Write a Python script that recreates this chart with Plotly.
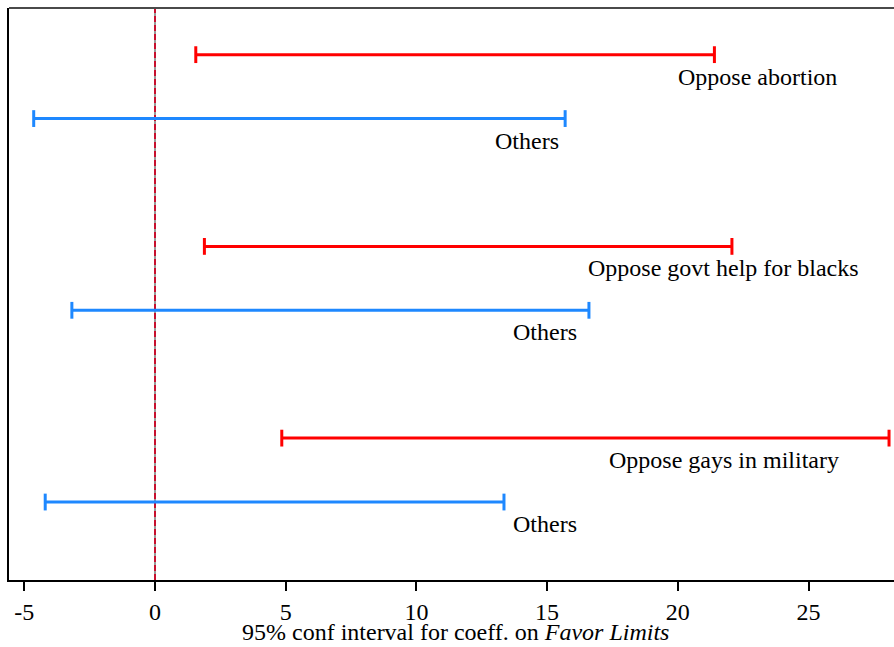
import plotly.graph_objects as go

# 95% confidence intervals for the coefficient on "Favor Limits"
groups = ["Oppose abortion", "Others",
          "Oppose govt help for blacks", "Others",
          "Oppose gays in military", "Others"]
ci_low = [1.56, -4.64, 1.89, -3.18, 4.85, -4.20]
ci_high = [21.40, 15.69, 22.07, 16.60, 28.08, 13.35]
row_pos = [1, 2, 4, 5, 7, 8]
label_x = [23.03, 14.23, 21.73, 14.92, 21.77, 14.92]
is_subgroup = [True, False, True, False, True, False]

x_ticks = [-5, 0, 5, 10, 15, 20, 25]
x_title = "95% conf interval for coeff. on <i>Favor Limits</i>"

RED = "#FF0000"
BLUE = "#1E88FF"
FONT = "Liberation Serif"

fig = go.Figure()

for name, lo, hi, y, sub in zip(groups, ci_low, ci_high, row_pos, is_subgroup):
    color = RED if sub else BLUE
    fig.add_trace(go.Scatter(
        x=[lo, hi], y=[y, y], mode="lines+markers",
        line=dict(color=color, width=3),
        marker=dict(symbol="line-ns", size=12,
                    line=dict(color=color, width=3)),
        name=name, showlegend=False, hoverinfo="skip", cliponaxis=False,
    ))

for name, lx, y in zip(groups, label_x, row_pos):
    fig.add_annotation(
        x=lx, y=y, text=name, showarrow=False,
        xanchor="center", yanchor="middle", yshift=-22,
        font=dict(family=FONT, size=24, color="black"),
    )

# x-axis title placed just under the tick labels
fig.add_annotation(
    xref="paper", yref="paper", x=0.5, y=0, xshift=4, yshift=-52,
    text=x_title, showarrow=False, xanchor="center", yanchor="middle",
    font=dict(family=FONT, size=24, color="black"),
)

# reference line at zero: gray under crimson dashes
fig.add_shape(type="line", xref="x", yref="paper", x0=0, x1=0, y0=0, y1=1,
              line=dict(color="#9a9a9a", width=2), layer="below")
fig.add_shape(type="line", xref="x", yref="paper", x0=0, x1=0, y0=0, y1=1,
              line=dict(color="#C8102E", width=2, dash="6px,3px"), layer="below")

# top frame line
fig.add_shape(type="line", xref="paper", yref="paper", x0=0, x1=1, y0=1, y1=1,
              line=dict(color="#4a4a4a", width=2))

fig.update_layout(
    width=894, height=647,
    margin=dict(l=9, r=0, t=8, b=67),
    paper_bgcolor="white", plot_bgcolor="white",
    font=dict(family=FONT, color="black"),
    xaxis=dict(
        range=[-5.585, 28.27],
        tickmode="array", tickvals=x_ticks,
        ticktext=[str(t) for t in x_ticks],
        ticks="outside", ticklen=9, tickwidth=1.5, tickcolor="black",
        showline=True, linecolor="black", linewidth=2,
        showgrid=False, zeroline=False,
        tickfont=dict(family=FONT, size=24, color="black"),
    ),
    yaxis=dict(
        range=[9.22, 0.27],
        showticklabels=False, ticks="",
        showline=True, linecolor="black", linewidth=2,
        showgrid=False, zeroline=False,
    ),
)

fig.write_html("out.html")
